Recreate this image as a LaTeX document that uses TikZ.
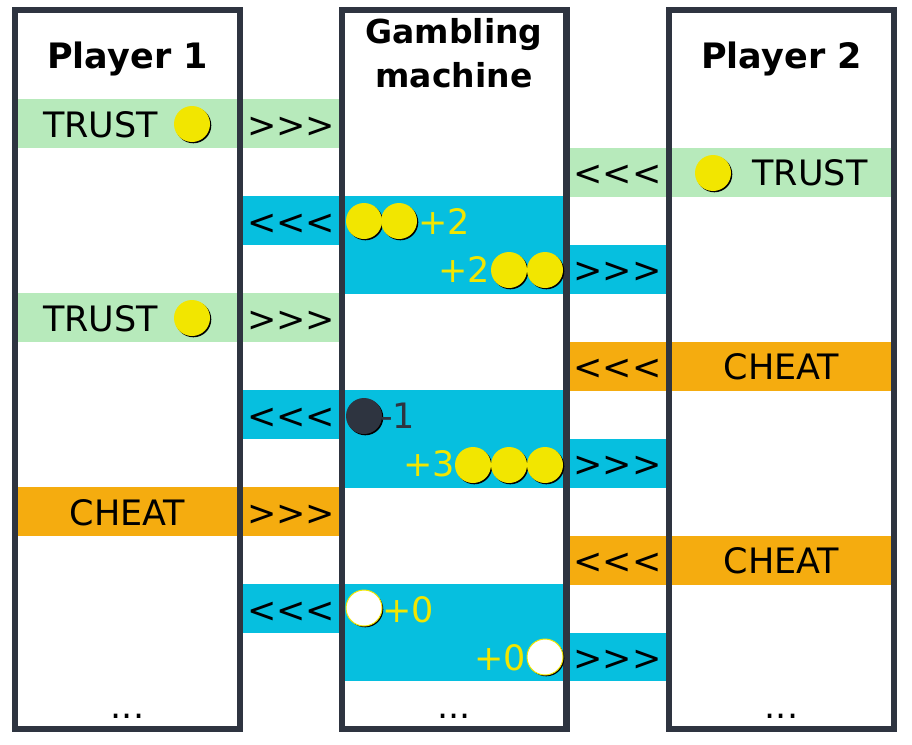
\documentclass[tikz,border=0pt]{standalone}
\usepackage{fontspec}
\setmainfont{DejaVu Sans}
\usetikzlibrary{shadows}
\definecolor{frame}{HTML}{2E3440}
\definecolor{trustg}{HTML}{B7EABB}
\definecolor{cheato}{HTML}{F5AC0F}
\definecolor{machb}{HTML}{06BFDF}
\definecolor{coiny}{HTML}{F2E600}
\tikzset{
  txt/.style={inner sep=0pt, anchor=base, font=\fontsize{35}{42}\selectfont},
  ttl/.style={inner sep=0pt, anchor=base, font=\fontsize{35}{42}\selectfont\bfseries},
  ttlm/.style={inner sep=0pt, anchor=base, font=\fontsize{33}{44}\selectfont\bfseries},
  gain/.style={txt, text=coiny},
  loss/.style={txt, text=frame},
  coinbase/.style={circle, inner sep=0pt, minimum size=36pt,
    drop shadow={shadow xshift=1.3pt, shadow yshift=-1.3pt, opacity=1, fill=black}},
  coin/.style={coinbase, fill=coiny},
  nocoin/.style={coinbase, fill=white, draw=coiny, line width=1pt},
  badcoin/.style={coinbase, fill=frame},
  colframe/.style={draw=frame, line width=6.5pt},
}
\begin{document}
\begin{tikzpicture}[x=1pt,y=-1pt]
\useasboundingbox[fill=white] (0,0) rectangle (912,744);
% bands
\fill[trustg] (15,99) rectangle (342,148);
\fill[trustg] (566,147.5) rectangle (894,196.5);
\fill[machb] (240,196) rectangle (566,245);
\fill[machb] (342,244.5) rectangle (669,293.5);
\fill[trustg] (15,293) rectangle (342,342);
\fill[cheato] (566,341.5) rectangle (894,390.5);
\fill[machb] (240,390) rectangle (566,439);
\fill[machb] (342,438.5) rectangle (669,487.5);
\fill[cheato] (15,487) rectangle (342,536);
\fill[cheato] (566,535.5) rectangle (894,584.5);
\fill[machb] (240,584) rectangle (566,633);
\fill[machb] (342,632.5) rectangle (669,681);
% column frames
\draw[colframe] (15,10) rectangle (240,729);
\draw[colframe] (342,10) rectangle (566.5,729);
\draw[colframe] (669,10) rectangle (894,729);
% titles
\node[ttl] (p1) at (127.5,68) {Player 1};
\node[ttlm] (gm1) at (454,43) {Gambling};
\node[ttlm] (gm2) at (454,87) {machine};
\node[ttl] (p2) at (781.5,68) {Player 2};
% row 0
\node[txt] (t0) at (100.5,137) {TRUST};
\node[coin] (c0) at (192,124) {};
\node[txt] (a0) at (291,137) {>{}>{}>};
% row 1
\node[txt] (a1) at (617.5,185.5) {<{}<{}<};
\node[coin] (c1) at (713,173) {};
\node[txt] (t1) at (810,185.5) {TRUST};
% row 2
\node[txt] (a2) at (291,234) {<{}<{}<};
\node[coin] (c2a) at (364,221) {};
\node[coin] (c2b) at (399,221) {};
\node[gain, anchor=base west] (g2) at (418,234) {+2};
% row 3
\node[gain, anchor=base east] (g3) at (490,282.5) {+2};
\node[coin] (c3a) at (509,270) {};
\node[coin] (c3b) at (545,270) {};
\node[txt] (a3) at (617.5,282.5) {>{}>{}>};
% row 4
\node[txt] (t4) at (100.5,331) {TRUST};
\node[coin] (c4) at (192,318) {};
\node[txt] (a4) at (291,331) {>{}>{}>};
% row 5
\node[txt] (a5) at (617.5,379.5) {<{}<{}<};
\node[txt] (t5) at (781.5,379.5) {CHEAT};
% row 6
\node[txt] (a6) at (291,428) {<{}<{}<};
\node[badcoin] (c6) at (364,416) {};
\node[loss, anchor=base west] (g6) at (380,428) {-1};
% row 7
\node[gain, anchor=base east] (g7) at (455,476.5) {+3};
\node[coin] (c7a) at (473,465) {};
\node[coin] (c7b) at (509,465) {};
\node[coin] (c7c) at (545,465) {};
\node[txt] (a7) at (617.5,476.5) {>{}>{}>};
% row 8
\node[txt] (t8) at (127.5,525) {CHEAT};
\node[txt] (a8) at (291,525) {>{}>{}>};
% row 9
\node[txt] (a9) at (617.5,573.5) {<{}<{}<};
\node[txt] (t9) at (781.5,573.5) {CHEAT};
% row 10
\node[txt] (a10) at (291,622) {<{}<{}<};
\node[nocoin] (c10) at (364,608) {};
\node[gain, anchor=base west] (g10) at (382,622) {+0};
% row 11
\node[gain, anchor=base east] (g11) at (526,670.5) {+0};
\node[nocoin] (c11) at (545,657) {};
\node[txt] (a11) at (617.5,670.5) {>{}>{}>};
% dots
\node[txt] (d1) at (127.5,718) {...};
\node[txt] (d2) at (454,718) {...};
\node[txt] (d3) at (781.5,718) {...};
\end{tikzpicture}
\end{document}
